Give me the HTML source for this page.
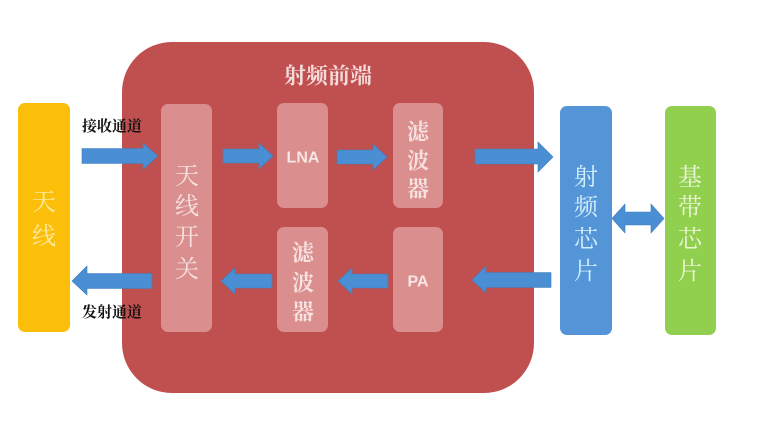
<!DOCTYPE html>
<html>
<head>
<meta charset="utf-8">
<style>
  html,body{margin:0;padding:0;background:#fff;}
  svg{display:block;}
  .cj{font-family:"Liberation Serif","Noto Serif CJK SC","Noto Sans CJK SC",serif;}
  .sans{font-family:"Liberation Sans","Noto Sans CJK SC",sans-serif;}
</style>
</head>
<body>
<svg width="760" height="421" viewBox="0 0 760 421" xmlns="http://www.w3.org/2000/svg">
  <rect x="0" y="0" width="760" height="421" fill="#ffffff"/>

  <!-- big RF front-end box -->
  <rect x="122" y="42" width="412" height="351" rx="50" ry="50" fill="#c0504f"/>
  <text x="328" y="76" class="cj" font-size="22" font-weight="bold" fill="#f4dcdc" text-anchor="middle" dominant-baseline="central">射频前端</text>

  <!-- antenna -->
  <rect x="18" y="103" width="52" height="229" rx="7" fill="#fbbf0a"/>
  <g class="cj" font-size="24" fill="#ffe9a0" text-anchor="middle" dominant-baseline="central">
    <text x="44" y="203">天</text>
    <text x="44" y="237">线</text>
  </g>

  <!-- antenna switch -->
  <rect x="161" y="104" width="51" height="228" rx="7" fill="#da8e8d"/>
  <g class="cj" font-size="24" fill="#f6e2e1" text-anchor="middle" dominant-baseline="central">
    <text x="187" y="177">天</text>
    <text x="187" y="207">线</text>
    <text x="187" y="238">开</text>
    <text x="187" y="270">关</text>
  </g>

  <!-- LNA -->
  <rect x="277" y="103" width="51" height="105" rx="7" fill="#da8e8d"/>
  <text x="303" y="158" class="sans" font-size="16" font-weight="bold" fill="#f8e6e5" text-anchor="middle" dominant-baseline="central">LNA</text>

  <!-- top filter -->
  <rect x="393" y="103" width="50" height="105" rx="7" fill="#da8e8d"/>
  <g class="cj" font-size="22" font-weight="bold" fill="#f6e2e1" text-anchor="middle" dominant-baseline="central">
    <text x="418" y="132">滤</text>
    <text x="418" y="161">波</text>
    <text x="418" y="189">器</text>
  </g>

  <!-- bottom filter -->
  <rect x="277" y="227" width="51" height="105" rx="7" fill="#da8e8d"/>
  <g class="cj" font-size="22" font-weight="bold" fill="#f6e2e1" text-anchor="middle" dominant-baseline="central">
    <text x="303" y="253">滤</text>
    <text x="303" y="283">波</text>
    <text x="303" y="312">器</text>
  </g>

  <!-- PA -->
  <rect x="393" y="227" width="50" height="105" rx="7" fill="#da8e8d"/>
  <text x="418" y="282" class="sans" font-size="16" font-weight="bold" fill="#f8e6e5" text-anchor="middle" dominant-baseline="central">PA</text>

  <!-- RF chip -->
  <rect x="560" y="106" width="52" height="229" rx="7" fill="#5495d8"/>
  <g class="cj" font-size="24" fill="#d4f0fb" text-anchor="middle" dominant-baseline="central">
    <text x="586" y="178">射</text>
    <text x="586" y="208">频</text>
    <text x="586" y="240">芯</text>
    <text x="586" y="272">片</text>
  </g>

  <!-- baseband chip -->
  <rect x="665" y="106" width="51" height="229" rx="7" fill="#91cf4f"/>
  <g class="cj" font-size="24" fill="#eef6d8" text-anchor="middle" dominant-baseline="central">
    <text x="690" y="178">基</text>
    <text x="690" y="208">带</text>
    <text x="690" y="240">芯</text>
    <text x="690" y="272">片</text>
  </g>

  <!-- labels -->
  <g class="cj" font-size="15" font-weight="bold" fill="#111" dominant-baseline="central">
    <text x="82" y="127">接收通道</text>
    <text x="82" y="313">发射通道</text>
  </g>

  <!-- arrows -->
  <g fill="#4a8ed4" stroke="#3f7dbd" stroke-width="0.6">
    <polygon points="82,148.5 143,148.5 143,143 158,156 143,169.5 143,163.5 82,163.5"/>
    <polygon points="223,149 259,149 259,143 273,156 259,169 259,163 223,163"/>
    <polygon points="337,150 373,150 373,144 387,157 373,170 373,164 337,164"/>
    <polygon points="475,149 538,149 538,142 553,157 538,172 538,164 475,164"/>
    <polygon points="551,272.5 486,272.5 486,266 472,280 486,293 486,287.5 551,287.5"/>
    <polygon points="388,274 352,274 352,268 338,281 352,294 352,288 388,288"/>
    <polygon points="272,274 235,274 235,268 221,281 235,294 235,288 272,288"/>
    <polygon points="152,273.5 87,273.5 87,266 72,281 87,295 87,288.5 152,288.5"/>
    <polygon points="612,218.5 625,204 625,212 651,212 651,204 664,218.5 651,233 651,225 625,225 625,233"/>
  </g>
</svg>
</body>
</html>
